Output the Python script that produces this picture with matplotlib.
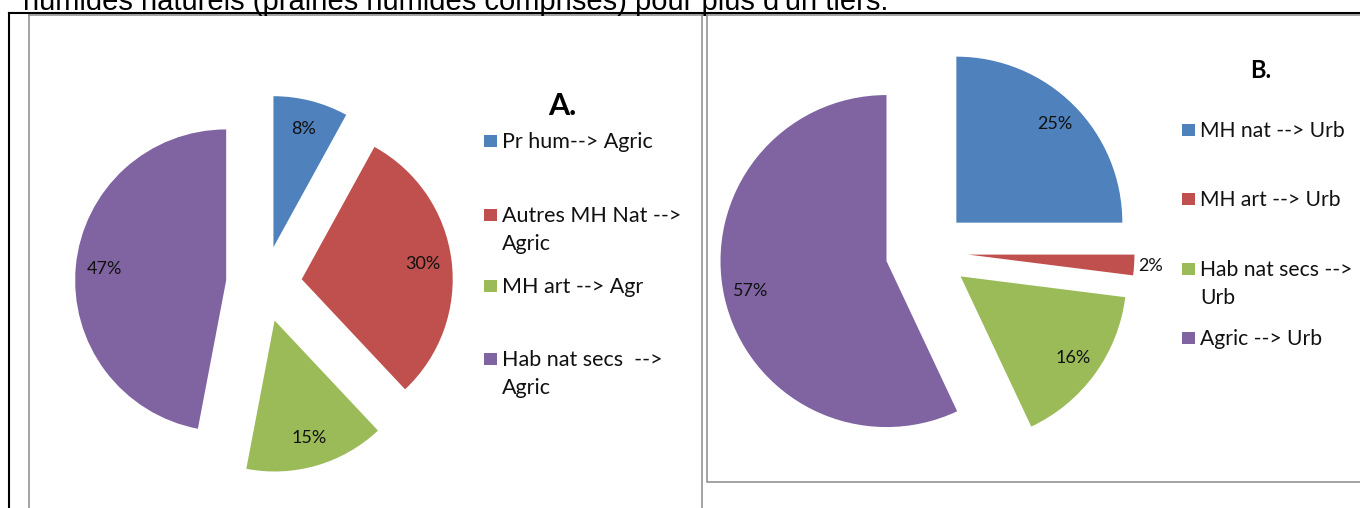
import matplotlib.pyplot as plt
from matplotlib.patches import Rectangle
import math

# data
labels_a = ['Pr hum--> Agric', 'Autres MH Nat -->\nAgric', 'MH art --> Agr', 'Hab nat secs  -->\nAgric']
values_a = [8, 30, 15, 47]
labels_b = ['MH nat --> Urb', 'MH art --> Urb', 'Hab nat secs -->\nUrb', 'Agric --> Urb']
values_b = [25, 2, 16, 57]
colors = ['#4F81BD', '#C0504D', '#9BBB59', '#8064A2']
header = "humides naturels (prairies humides comprises) pour plus d'un tiers."

W, H = 1360, 508


def Y(y):
    # pixel row (from top) -> data y
    return H - y


fig = plt.figure(figsize=(W / 100, H / 100), dpi=100)
ax = fig.add_axes([0, 0, 1, 1])

pct = lambda p: f"{p:.0f}%"
txt = dict(family='Lato', fontsize=13, color='#111111')

wa, _, ta = ax.pie(values_a, colors=colors, startangle=90, counterclock=False,
                   explode=[38] * 4, radius=151, center=(264, Y(284)),
                   autopct=pct, pctdistance=0.81, wedgeprops=dict(linewidth=0),
                   textprops=txt, frame=True)
wb, _, tb = ax.pie(values_b, colors=colors, startangle=90, counterclock=False,
                   explode=[41.5] * 4, radius=166, center=(927, Y(252)),
                   autopct=pct, pctdistance=0.84, wedgeprops=dict(linewidth=0),
                   textprops=txt, frame=True)

# small slice label sits outside the pie
w = wb[1]
tm = math.radians((w.theta1 + w.theta2) / 2)
tb[1].set_position((w.center[0] + 1.1 * w.r * math.cos(tm),
                    w.center[1] + 1.1 * w.r * math.sin(tm)))

ax.set_xlim(0, W)
ax.set_ylim(0, H)
ax.axis('off')


# legends
def legend(labels, sq_x, txt_x, baselines, fs):
    for lab, col, b in zip(labels, colors, baselines):
        ax.add_patch(Rectangle((sq_x - 6.5, Y(b - 1)), 13, 12.5, color=col, lw=0))
        for i, line in enumerate(lab.split('\n')):
            ax.text(txt_x, Y(b + i * 28), line, family='Lato', fontsize=fs,
                    va='baseline', ha='left', color='#111111')


legend(labels_a, 490, 502, [148, 222, 293, 366], 15.5)
legend(labels_b, 1188, 1200, [137, 206, 276, 345], 15.2)

ax.text(562, Y(115), 'A.', family='Lato', fontweight='bold', fontsize=22,
        ha='center', va='baseline')
ax.text(1261, Y(78), 'B.', family='Lato', fontweight='bold', fontsize=17,
        ha='center', va='baseline')

# page text (cut at the top as in the page capture) and frames
ax.text(23, Y(10), header, family='Liberation Sans', fontsize=21,
        ha='left', va='baseline')
grey = '#8a8a8a'
ax.plot([29, 29], [Y(15), 0], color=grey, lw=1.1)
ax.plot([702, 702], [Y(15), 0], color=grey, lw=1.1)
ax.plot([707, 707, W], [Y(15), Y(482), Y(482)], color=grey, lw=1.1)
ax.plot([29, W], [Y(15), Y(15)], color=grey, lw=1.1)
ax.plot([9, 9], [0, Y(13)], color='black', lw=1.5)
ax.plot([9, W], [Y(13), Y(13)], color='black', lw=1.5)

fig.savefig('out.png', dpi=100)
